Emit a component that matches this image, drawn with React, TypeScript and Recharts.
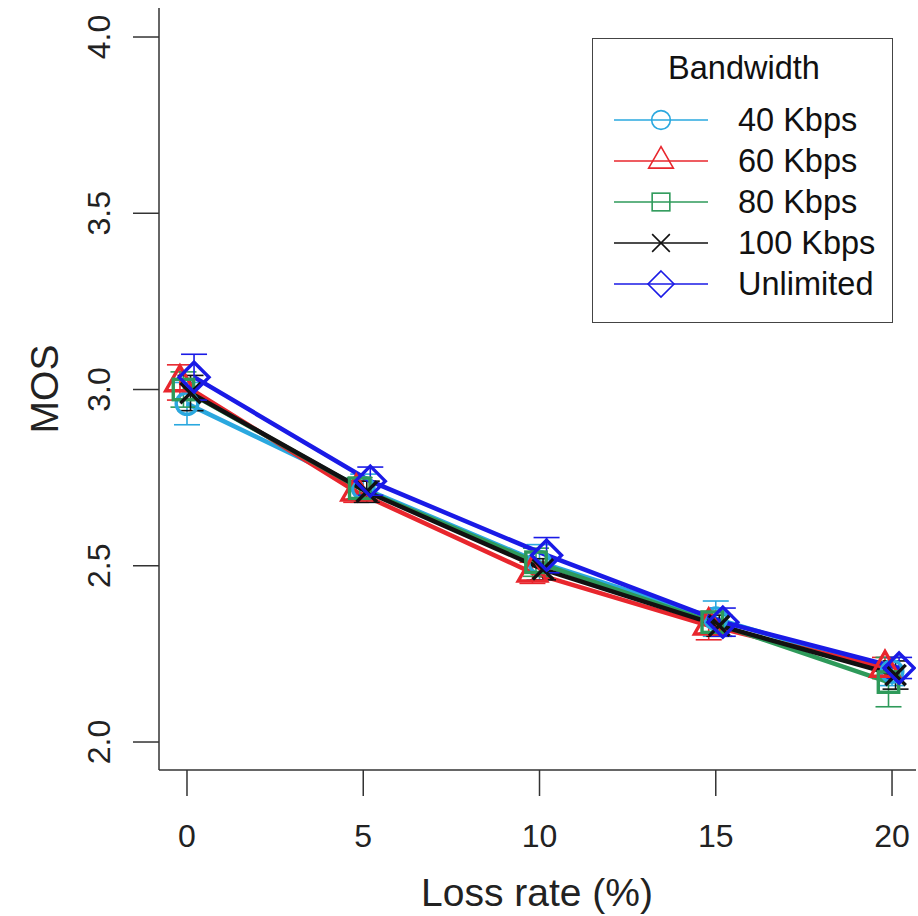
import React from "react";
import {
  LineChart,
  Line,
  XAxis,
  YAxis,
  ErrorBar,
  Legend,
  Label,
} from "recharts";

// loss rate (%) on x, MOS on y
const LOSS_RATES = [0, 5, 10, 15, 20];

const MOS_40 = [2.96, 2.72, 2.51, 2.35, 2.2];
const MOS_60 = [3.02, 2.71, 2.48, 2.33, 2.21];
const MOS_80 = [3.0, 2.72, 2.51, 2.34, 2.17];
const MOS_100 = [2.99, 2.71, 2.49, 2.33, 2.19];
const MOS_UNL = [3.035, 2.74, 2.53, 2.34, 2.21];

const ERR_40 = [0.06, 0.04, 0.05, 0.05, 0.04];
const ERR_60 = [0.05, 0.03, 0.03, 0.04, 0.03];
const ERR_80 = [0.05, 0.03, 0.04, 0.03, 0.07];
const ERR_100 = [0.05, 0.03, 0.03, 0.03, 0.04];
const ERR_UNL = [0.065, 0.04, 0.05, 0.04, 0.03];

const Y_TICKS = [2.0, 2.5, 3.0, 3.5, 4.0];
const X_TICKS = [0, 5, 10, 15, 20];

type Shape = "circle" | "triangle" | "square" | "cross" | "diamond";

const SERIES: {
  name: string;
  mos: number[];
  err: number[];
  dodge: number;
  color: string;
  shape: Shape;
}[] = [
  { name: "40 Kbps", mos: MOS_40, err: ERR_40, dodge: 0, color: "#2aa8df", shape: "circle" },
  { name: "60 Kbps", mos: MOS_60, err: ERR_60, dodge: -0.2, color: "#e8262d", shape: "triangle" },
  { name: "80 Kbps", mos: MOS_80, err: ERR_80, dodge: -0.1, color: "#2e9a5a", shape: "square" },
  { name: "100 Kbps", mos: MOS_100, err: ERR_100, dodge: 0.1, color: "#111111", shape: "cross" },
  { name: "Unlimited", mos: MOS_UNL, err: ERR_UNL, dodge: 0.2, color: "#1a1ae6", shape: "diamond" },
];

const FONT = '"Liberation Sans", Arial, Helvetica, sans-serif';
const X_DOMAIN: [number, number] = [-0.794, 20.68];
const Y_DOMAIN: [number, number] = [1.9206, 4.0823];

function Marker({
  shape,
  cx,
  cy,
  color,
  s,
  sw,
}: {
  shape: Shape;
  cx: number;
  cy: number;
  color: string;
  s: number;
  sw: number;
}) {
  const common = { fill: "none", stroke: color, strokeWidth: sw };
  switch (shape) {
    case "circle":
      return <circle cx={cx} cy={cy} r={s * 0.72} {...common} />;
    case "triangle": {
      const w = s * 1.9;
      const h = s * 1.65;
      return (
        <polygon
          points={`${cx},${cy - (h * 2) / 3} ${cx - w / 2},${cy + h / 3} ${cx + w / 2},${cy + h / 3}`}
          {...common}
        />
      );
    }
    case "square":
      return <rect x={cx - s * 0.68} y={cy - s * 0.68} width={s * 1.36} height={s * 1.36} {...common} />;
    case "cross":
      return (
        <g {...common}>
          <line x1={cx - s * 0.68} y1={cy - s * 0.68} x2={cx + s * 0.68} y2={cy + s * 0.68} />
          <line x1={cx - s * 0.68} y1={cy + s * 0.68} x2={cx + s * 0.68} y2={cy - s * 0.68} />
        </g>
      );
    case "diamond":
      return (
        <polygon
          points={`${cx},${cy - s} ${cx + s},${cy} ${cx},${cy + s} ${cx - s},${cy}`}
          {...common}
        />
      );
  }
}

function LegendBox() {
  return (
    <div
      style={{
        width: 299,
        height: 283,
        border: "1.5px solid #444",
        background: "#fff",
        position: "relative",
        fontFamily: FONT,
      }}
    >
      <svg width={299} height={283} style={{ display: "block" }}>
        <text
          x={151}
          y={29}
          textAnchor="middle"
          dominantBaseline="central"
          fontSize={32.5}
          fill="#111"
          fontFamily={FONT}
        >
          Bandwidth
        </text>
        {SERIES.map((s, i) => {
          const y = 81 + i * 41;
          return (
            <g key={s.name}>
              <line x1={21} x2={115} y1={y} y2={y} stroke={s.color} strokeWidth={1.5} />
              <Marker shape={s.shape} cx={68} cy={y} color={s.color} s={13} sw={1.6} />
              <text
                x={145}
                y={y}
                dominantBaseline="central"
                fontSize={32.5}
                fill="#111"
                fontFamily={FONT}
              >
                {s.name}
              </text>
            </g>
          );
        })}
      </svg>
    </div>
  );
}

// eslint-disable-next-line @typescript-eslint/no-explicit-any
function YTick({ y, payload }: any) {
  return (
    <text
      transform={`translate(99, ${y}) rotate(-90)`}
      textAnchor="middle"
      dominantBaseline="central"
      fontSize={32}
      fill="#222"
      fontFamily={FONT}
    >
      {Number(payload.value).toFixed(1)}
    </text>
  );
}

// eslint-disable-next-line @typescript-eslint/no-explicit-any
function XTick({ x, payload }: any) {
  return (
    <text
      x={x}
      y={836}
      textAnchor="middle"
      dominantBaseline="central"
      fontSize={32}
      fill="#222"
      fontFamily={FONT}
    >
      {payload.value}
    </text>
  );
}

export default function App() {
  const seriesData = SERIES.map((s) =>
    LOSS_RATES.map((r, i) => ({ x: r + s.dodge, mos: s.mos[i], err: s.err[i] }))
  );

  return (
    <div style={{ position: "absolute", left: 0, top: 0, background: "#fff" }}>
      <LineChart
        width={918}
        height={916}
        margin={{ top: 8, right: 2, left: 0, bottom: 0 }}
      >
        <XAxis
          dataKey="x"
          type="number"
          domain={X_DOMAIN}
          allowDataOverflow
          ticks={X_TICKS}
          tick={<XTick />}
          tickSize={26}
          tickLine={{ stroke: "#333", strokeWidth: 1.5 }}
          axisLine={{ stroke: "#333", strokeWidth: 1.5 }}
          height={146}
        >
          <Label
            content={() => (
              <text
                x={537}
                y={892}
                textAnchor="middle"
                dominantBaseline="central"
                fontSize={39}
                fill="#222"
                fontFamily={FONT}
              >
                Loss rate (%)
              </text>
            )}
          />
        </XAxis>
        <XAxis
          xAxisId="top"
          orientation="top"
          type="number"
          domain={X_DOMAIN}
          allowDataOverflow
          tick={false}
          tickLine={false}
          axisLine={{ stroke: "#333", strokeWidth: 1.5 }}
          height={0}
        />
        <YAxis
          type="number"
          domain={Y_DOMAIN}
          allowDataOverflow
          ticks={Y_TICKS}
          tick={<YTick />}
          tickSize={26}
          tickLine={{ stroke: "#333", strokeWidth: 1.5 }}
          axisLine={{ stroke: "#333", strokeWidth: 1.5 }}
          width={159}
        >
          <Label
            content={() => (
              <text
                transform="translate(44, 389) rotate(-90)"
                textAnchor="middle"
                dominantBaseline="central"
                fontSize={39}
                fill="#222"
                fontFamily={FONT}
              >
                MOS
              </text>
            )}
          />
        </YAxis>
        <YAxis
          yAxisId="right"
          orientation="right"
          type="number"
          domain={Y_DOMAIN}
          allowDataOverflow
          tick={false}
          tickLine={false}
          axisLine={{ stroke: "#333", strokeWidth: 1.5 }}
          width={0}
        />
        {SERIES.map((s, si) => (
          <Line
            key={s.name}
            data={seriesData[si]}
            dataKey="mos"
            name={s.name}
            type="linear"
            stroke={s.color}
            strokeWidth={4.5}
            isAnimationActive={false}
            activeDot={false}
            // eslint-disable-next-line @typescript-eslint/no-explicit-any
            dot={(p: any) => (
              <Marker
                key={`${s.name}-${p.index}`}
                shape={s.shape}
                cx={p.cx}
                cy={p.cy}
                color={s.color}
                s={15}
                sw={3.4}
              />
            )}
          >
            <ErrorBar
              dataKey="err"
              direction="y"
              width={13}
              stroke={s.color}
              strokeWidth={1.6}
            />
          </Line>
        ))}
        <Legend
          layout="vertical"
          align="center"
          verticalAlign="middle"
          content={() => <LegendBox />}
          wrapperStyle={{ position: "absolute", left: 592, top: 38, width: 302, height: 286 }}
        />
      </LineChart>
    </div>
  );
}
